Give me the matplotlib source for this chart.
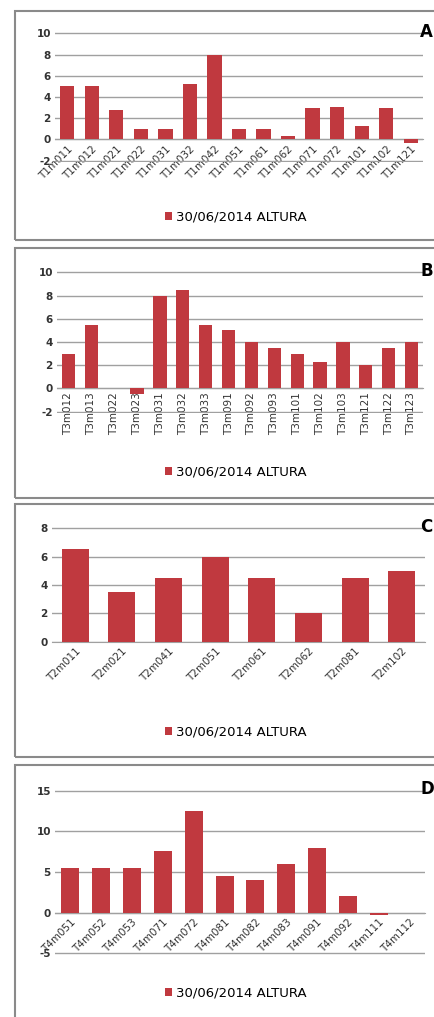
import matplotlib
matplotlib.use("Agg")
import matplotlib.pyplot as plt
from matplotlib.patches import Rectangle

plt.rcParams["axes.unicode_minus"] = False

W, H = 434, 1017

cats_a = ["T1m011", "T1m012", "T1m021", "T1m022", "T1m031", "T1m032", "T1m042", "T1m051",
          "T1m061", "T1m062", "T1m071", "T1m072", "T1m101", "T1m102", "T1m121"]
vals_a = [5, 5, 2.8, 1, 1, 5.2, 8, 1, 1, 0.3, 3, 3.1, 1.3, 3, -0.3]

cats_b = ["T3m012", "T3m013", "T3m022", "T3m023", "T3m031", "T3m032", "T3m033", "T3m091",
          "T3m092", "T3m093", "T3m101", "T3m102", "T3m103", "T3m121", "T3m122", "T3m123"]
vals_b = [3, 5.5, 0, -0.5, 8, 8.5, 5.5, 5, 4, 3.5, 3, 2.3, 4, 2, 3.5, 4]

cats_c = ["T2m011", "T2m021", "T2m041", "T2m051", "T2m061", "T2m062", "T2m081", "T2m102"]
vals_c = [6.5, 3.5, 4.5, 6, 4.5, 2, 4.5, 5]

cats_d = ["T4m051", "T4m052", "T4m053", "T4m071", "T4m072", "T4m081", "T4m082", "T4m083",
          "T4m091", "T4m092", "T4m111", "T4m112"]
vals_d = [5.5, 5.5, 5.5, 7.6, 12.5, 4.5, 4, 6, 8, 2, -0.3, 0]

serie = "30/06/2014 ALTURA"
rojo = "#c0393f"

fig = plt.figure(figsize=(W / 100, H / 100), dpi=100)


def fx(x):
    return x / W


def fy(y):
    return 1 - y / H


def panel(box, area, cats, vals, ylim, step, rot, letra, ley_y):
    # marco gris del panel
    x0, y0, x1, y1 = box
    fig.patches.append(Rectangle((fx(x0), fy(y1)), fx(x1 - x0), (y1 - y0) / H,
                                 transform=fig.transFigure, fill=False,
                                 ec="#8a8a8a", lw=1.5))
    l, t, r, b = area
    ax = fig.add_axes([fx(l), fy(b), fx(r - l), (b - t) / H])
    ax.bar(range(len(cats)), vals, width=0.58, color=rojo, zorder=3, label=serie)
    ax.set_xlim(-0.5, len(cats) - 0.5)
    pad = (ylim[1] - ylim[0]) * 0.01
    ax.set_ylim(ylim[0] - pad, ylim[1] + pad)
    ax.set_yticks(range(ylim[0], ylim[1] + 1, step))
    ax.yaxis.grid(True, color="#a0a0a0", lw=1)
    for s in ["top", "right", "left"]:
        ax.spines[s].set_visible(False)
    ax.spines["bottom"].set_position(("data", 0))
    ax.spines["bottom"].set_color("#a0a0a0")
    ax.tick_params(axis="both", length=0, labelsize=7.5, colors="#333333", pad=3)
    ax.set_xticks(range(len(cats)))
    if rot == 90:
        ax.set_xticklabels(cats, rotation=90, ha="center", va="top")
    else:
        ax.set_xticklabels(cats, rotation=45, ha="right", va="top",
                           rotation_mode="anchor")
    for lab in ax.get_yticklabels():
        lab.set_fontweight("bold")
    ax.legend(loc="center", bbox_to_anchor=(fx(236), fy(ley_y)),
              bbox_transform=fig.transFigure, frameon=False, fontsize=9.5,
              handlelength=0.55, handleheight=0.55, handletextpad=0.3)
    fig.text(fx(420), fy(t), letra, fontsize=12, fontweight="bold",
             ha="left", va="center")
    return ax


panel((15, 11, 445, 240), (55, 32, 423, 162), cats_a, vals_a, (-2, 10), 2, 45, "A", 217)
panel((15, 248, 445, 498), (57, 271, 423, 413), cats_b, vals_b, (-2, 10), 2, 90, "B", 472)
panel((15, 504, 445, 757), (52, 527, 425, 643), cats_c, vals_c, (0, 8), 2, 45, "C", 732)
panel((15, 765, 445, 1030), (55, 789, 425, 955), cats_d, vals_d, (-5, 15), 5, 45, "D", 993)

fig.savefig("out.png", dpi=100)
